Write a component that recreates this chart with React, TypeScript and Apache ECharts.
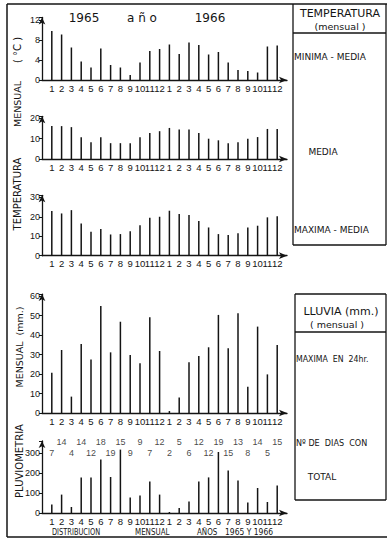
import React, { useEffect, useRef } from "react";
import * as echarts from "echarts";

// Monthly values, 1965 then 1966
const monthLabels = ["1", "2", "3", "4", "5", "6", "7", "8", "9", "10", "11", "12"];
const minMedia1965 = [9.8, 9.1, 6.5, 3.7, 2.5, 6.3, 3.0, 2.5, 1.0, 3.5, 5.8, 6.2];
const minMedia1966 = [7.1, 5.2, 7.5, 7.0, 5.1, 5.6, 3.5, 2.0, 1.8, 1.5, 6.7, 6.9];
const media1965 = [16.2, 16.2, 15.7, 10.7, 8.3, 10.7, 7.8, 7.8, 7.8, 10.7, 12.8, 13.7];
const media1966 = [15.3, 14.5, 14.5, 12.8, 10.0, 9.2, 7.8, 8.2, 10.0, 10.8, 14.8, 14.8];
const maxMedia1965 = [22.9, 21.7, 23.4, 16.6, 12.3, 13.7, 10.9, 11.1, 12.6, 15.7, 19.5, 20.0];
const maxMedia1966 = [23.1, 21.4, 20.9, 17.8, 14.5, 11.1, 10.6, 11.5, 14.5, 15.4, 19.7, 20.3];
const max24h1965 = [20.7, 32.3, 8.4, 35.4, 27.5, 54.9, 31.1, 46.8, 29.7, 25.5, 49.1, 31.8];
const max24h1966 = [1.0, 7.9, 26.0, 29.2, 33.7, 50.3, 33.2, 51.1, 13.5, 44.3, 19.8, 34.9];
const total1965 = [42, 92, 30, 178, 178, 267, 180, 317, 78, 88, 158, 92];
const total1966 = [5, 25, 58, 158, 178, 305, 213, 162, 53, 125, 55, 138];
const days1965 = [7, 14, 4, 14, 12, 18, 19, 15, 9, 9, 7, 12];
const days1966 = [2, 5, 6, 12, 12, 19, 15, 13, 8, 14, 5, 15];

const INK = "#141414";
const FONT = '"DejaVu Sans", sans-serif';

function pairs(a: number[], b: number[]) {
  return [...a, ...b].map((v, i) => [i + 1, v]);
}

export default function App() {
  const ref = useRef<HTMLDivElement>(null);
  useEffect(() => {
    if (!ref.current) return;
    const chart = echarts.init(ref.current, null, { renderer: "svg" });

    // panels: zero line y, pixel per unit, max, interval
    const panels = [
      { zero: 80, ppu: 5.0, max: 12.5, interval: 4, data: pairs(minMedia1965, minMedia1966) },
      { zero: 159, ppu: 2.03, max: 21, interval: 10, data: pairs(media1965, media1966) },
      { zero: 255.7, ppu: 1.947, max: 31, interval: 10, data: pairs(maxMedia1965, maxMedia1966) },
      { zero: 413, ppu: 1.95, max: 61, interval: 10, data: pairs(max24h1965, max24h1966) },
      { zero: 513, ppu: 0.2, max: 360, interval: 100, data: pairs(total1965, total1966) },
    ];

    const H = 542;
    const grids = panels.map((p) => ({
      left: 42,
      right: 102,
      top: p.zero - p.max * p.ppu,
      bottom: H - p.zero,
    }));

    const xAxes = panels.map((_, i) => ({
      type: "value",
      gridIndex: i,
      min: 0,
      max: 25,
      interval: 1,
      splitLine: { show: false },
      axisTick: { show: false },
      axisLine: {
        show: true,
        symbol: ["none", "arrow"],
        symbolSize: [5, 8],
        lineStyle: { color: INK, width: 1.3 },
      },
      axisLabel: {
        margin: 3,
        fontSize: 9.5,
        fontFamily: '"Liberation Sans", sans-serif',
        color: INK,
        formatter: (v: number) =>
          v >= 1 && v <= 24 ? monthLabels[(Math.round(v) - 1) % 12] : "",
      },
    }));

    const yAxes = panels.map((p, i) => ({
      type: "value",
      gridIndex: i,
      min: 0,
      max: p.max,
      interval: p.interval,
      splitLine: { show: false },
      axisTick: { show: true, length: 3, lineStyle: { color: INK } },
      axisLine: {
        show: true,
        symbol: ["none", "arrow"],
        symbolSize: [5, 7],
        lineStyle: { color: INK, width: 1.3 },
      },
      axisLabel: {
        margin: 2,
        fontSize: 9,
        fontFamily: '"Liberation Sans", sans-serif',
        color: INK,
        formatter: (v: number) => (v % p.interval === 0 ? String(v) : ""),
      },
    }));

    const series: any[] = panels.map((p, i) => ({
      type: "bar",
      xAxisIndex: i,
      yAxisIndex: i,
      barWidth: 1.5,
      itemStyle: { color: INK },
      data: p.data,
    }));

    const allDays = [...days1965, ...days1966];
    const UPPER_ROW = 355;
    const LOWER_ROW = 300;
    series.push({
      type: "scatter",
      xAxisIndex: 4,
      yAxisIndex: 4,
      symbolSize: 0,
      silent: true,
      data: allDays.map((d, i) => ({
        value: [i + 1, i % 2 === 1 ? UPPER_ROW : LOWER_ROW],
        name: String(d),
      })),
      label: {
        show: true,
        position: "inside",
        fontSize: 9,
        fontFamily: '"Liberation Sans", sans-serif',
        color: INK,
        formatter: (prm: any) => prm.name,
      },
    });

    const txt = (
      text: string,
      x: number,
      y: number,
      size: number,
      opts: any = {}
    ) => ({
      type: "text",
      x,
      y,
      rotation: opts.rotation || 0,
      scaleX: opts.scaleX || 1,
      silent: true,
      style: {
        text,
        fill: INK,
        fontSize: size,
        fontFamily: FONT,
        textAlign: opts.align || "center",
        align: opts.align || "center",
        textVerticalAlign: "middle",
        verticalAlign: "middle",
      },
    });
    const ln = (x1: number, y1: number, x2: number, y2: number, w = 1.3) => ({
      type: "line",
      silent: true,
      shape: { x1, y1, x2, y2 },
      style: { stroke: INK, lineWidth: w },
    });

    const graphic: any[] = [
      // frame
      ln(7, 4, 387, 4, 1.5),
      ln(7, 4, 7, 537, 1.5),
      ln(7, 537, 387, 537, 1.5),
      // temperature legend box
      ln(293, 4, 293, 245),
      ln(386, 4, 386, 245),
      ln(293, 245, 386, 245),
      ln(293, 33, 386, 33),
      // rain legend box
      ln(295, 294, 386, 294),
      ln(295, 294, 295, 500),
      ln(386, 294, 386, 500),
      ln(295, 500, 386, 500),
      ln(295, 332, 386, 332),
      // header
      txt("1965", 84, 18, 12),
      txt("a ñ o", 142, 18, 12),
      txt("1966", 210, 18, 12),
      // left vertical titles
      txt("( °C )", 17, 50, 10, { rotation: Math.PI / 2 }),
      txt("MENSUAL", 17, 104, 9.5, { rotation: Math.PI / 2 }),
      txt("TEMPERATURA", 17, 194, 10, { rotation: Math.PI / 2 }),
      txt("MENSUAL  (mm.)", 19, 347, 9.5, { rotation: Math.PI / 2 }),
      txt("PLUVIOMETRIA", 19, 461, 10, { rotation: Math.PI / 2 }),
      // legend texts
      txt("TEMPERATURA", 340, 13.5, 11),
      txt("(mensual )", 340, 26, 9.5),
      txt("MINIMA - MEDIA", 294, 57, 9, { align: "left" }),
      txt("MEDIA", 323, 152, 9),
      txt("MAXIMA - MEDIA", 294, 230, 9, { align: "left" }),
      txt("LLUVIA (mm.)", 341, 311.5, 11),
      txt("( mensual )", 337, 324, 9.5),
      txt("MAXIMA  EN  24hr.", 296, 359, 8.5, { align: "left", scaleX: 0.92 }),
      txt("Nº DE  DIAS  CON", 296, 443, 8.5, { align: "left", scaleX: 0.95 }),
      txt("TOTAL", 322, 477, 9),
      // bottom caption
      txt("DISTRIBUCION", 52, 532, 9.5, { align: "left", scaleX: 0.7 }),
      txt("MENSUAL", 135, 532, 9.5, { align: "left", scaleX: 0.75 }),
      txt("AÑOS", 197, 532, 9.5, { align: "left", scaleX: 0.75 }),
      txt("1965 Y 1966", 225, 532, 9.5, { align: "left", scaleX: 0.8 }),
    ];

    chart.setOption({
      animation: false,
      backgroundColor: "#ffffff",
      grid: grids,
      xAxis: xAxes,
      yAxis: yAxes,
      series,
      graphic,
    });
    return () => chart.dispose();
  }, []);

  return (
    <div
      ref={ref}
      style={{ position: "fixed", left: 0, top: 0, width: 389, height: 542 }}
    />
  );
}
